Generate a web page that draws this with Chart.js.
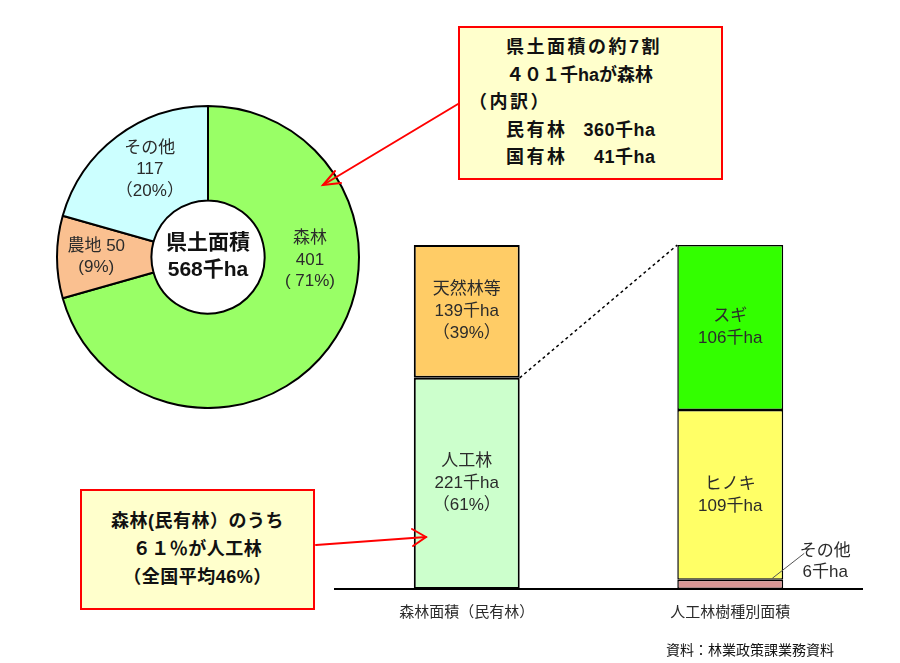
<!DOCTYPE html>
<html lang="ja">
<head>
<meta charset="utf-8">
<title>県土面積と森林面積</title>
<script src="https://cdn.jsdelivr.net/npm/chart.js@4.4.1/dist/chart.umd.min.js"></script>
<style>
  html, body { margin: 0; padding: 0; background: #fff; }
  body {
    width: 900px; height: 663px; position: relative; overflow: hidden;
    font-family: "Liberation Sans", "Noto Sans CJK JP", sans-serif;
  }
  #landChart { position: absolute; left: 56px; top: 105px; }
  #forestChart { position: absolute; left: 320px; top: 230px; }
  .note {
    position: absolute; box-sizing: border-box;
    background: #ffffcc; border: 2px solid #ff0000;
    font-weight: bold; font-size: 18px; color: #111;
  }
  #noteLand { left: 458px; top: 26px; width: 265px; height: 154px; padding-top: 6px; line-height: 27.5px; letter-spacing: 2.5px; }
  #noteLand .row { display: flex; white-space: pre; }
  #noteLand .num { display: inline-block; width: 88px; text-align: right; letter-spacing: 0.5px; }
  #notePlanted { left: 80px; top: 489px; width: 235px; height: 121px; padding-top: 16px; line-height: 28px; text-align: center; letter-spacing: 0.5px; }
  #source { position: absolute; left: 666px; top: 639px; font-size: 14px; color: #111; }
  #arrows { position: absolute; left: 0; top: 0; pointer-events: none; }
</style>
</head>
<body>
<canvas id="landChart" width="304" height="304"></canvas>
<canvas id="forestChart" width="560" height="408"></canvas>

<div class="note" id="noteLand">
  <div class="row" style="margin-left:46px">県土面積の約7割</div>
  <div class="row" style="margin-left:46px; letter-spacing:0">４０１千haが森林</div>
  <div class="row" style="margin-left:9px">（内訳）</div>
  <div class="row" style="margin-left:46px"><span>民有林</span><span class="num">360千ha</span></div>
  <div class="row" style="margin-left:46px"><span>国有林</span><span class="num">41千ha</span></div>
</div>

<div class="note" id="notePlanted">
  <div>森林(民有林）のうち</div>
  <div>６１％が人工林</div>
  <div>（全国平均46%）</div>
</div>

<div id="source">資料：林業政策課業務資料</div>

<svg id="arrows" width="900" height="663">
  <g stroke="#ff0000" stroke-width="2" fill="none" stroke-linecap="round">
    <line x1="458" y1="104" x2="323" y2="185" />
    <polyline points="335,171 323,185 341,183" />
    <line x1="316" y1="545" x2="426" y2="537" />
    <polyline points="412,529 426,537 413,546" />
  </g>
</svg>

<script>
// ===================================
// DATA
// ===================================
const landCategories = ["森林", "農地", "その他"];
const landValues = [401, 50, 117];
const landShares = [71, 9, 20];
const landTotal = 568;

const barCategories = ["森林面積（民有林）", "人工林樹種別面積"];
const forestTypes = ["人工林", "天然林等"];
const forestValues = [221, 139];
const forestShares = [61, 39];
const speciesNames = ["その他", "ヒノキ", "スギ"];
const speciesValues = [6, 109, 106];

// ===================================
// STYLE
// ===================================
const FONT = '"Liberation Sans", "Noto Sans CJK JP", sans-serif';
const TEXT_COLOR = "#2b2b2b";
const landColors = ["#99ff66", "#fac090", "#ccffff"];
const forestColors = ["#ccffcc", "#ffcc66"];
const speciesColors = ["#d99694", "#ffff66", "#33ff00"];

// label lines for each doughnut slice, and where to put them (fraction of radius)
const landLabelLines = [
  [landCategories[0], String(landValues[0]), "( " + landShares[0] + "%)"],
  [landCategories[1] + " " + landValues[1], "(" + landShares[1] + "%)"],
  [landCategories[2], String(landValues[2]), "（" + landShares[2] + "%）"],
];
const landLabelOffsets = [[0.675, 0.02], [-0.74, 0], [-0.385, -0.58]];

function drawLines(ctx, lines, x, y, lineHeight) {
  const top = y - ((lines.length - 1) * lineHeight) / 2;
  lines.forEach((line, i) => ctx.fillText(line, x, top + i * lineHeight));
}

// ===================================
// DOUGHNUT (県土面積)
// ===================================
const landLabelPlugin = {
  id: "landLabels",
  afterDatasetsDraw(chart) {
    const { ctx } = chart;
    const arcs = chart.getDatasetMeta(0).data;
    const cx = arcs[0].x;
    const cy = arcs[0].y;
    const r = arcs[0].outerRadius;
    ctx.save();
    ctx.textAlign = "center";
    ctx.textBaseline = "middle";
    ctx.fillStyle = TEXT_COLOR;
    ctx.font = "17px " + FONT;
    landLabelLines.forEach((lines, i) => {
      const [ox, oy] = landLabelOffsets[i];
      drawLines(ctx, lines, cx + ox * r, cy + oy * r, 21.5);
    });
    ctx.fillStyle = "#111";
    ctx.font = "bold 21px " + FONT;
    drawLines(ctx, ["県土面積", landTotal + "千ha"], cx, cy, 27);
    ctx.restore();
  },
};

new Chart(document.getElementById("landChart"), {
  type: "doughnut",
  data: {
    labels: landCategories,
    datasets: [
      {
        data: landValues,
        backgroundColor: landColors,
        borderColor: "#000",
        borderWidth: 2,
      },
    ],
  },
  options: {
    responsive: false,
    animation: false,
    cutout: "37.5%",
    rotation: 0,
    events: [],
    plugins: { legend: { display: false }, tooltip: { enabled: false } },
  },
  plugins: [landLabelPlugin],
});

// ===================================
// STACKED BARS (民有林 / 人工林樹種別)
// ===================================
const forestLabelPlugin = {
  id: "forestLabels",
  afterDatasetsDraw(chart) {
    const { ctx } = chart;
    const planted = chart.getDatasetMeta(0).data[0];
    const sugi = chart.getDatasetMeta(4).data[1];

    // dotted connector from 人工林 top to the species bar top
    ctx.save();
    ctx.strokeStyle = "#000";
    ctx.lineWidth = 1.5;
    ctx.setLineDash([3, 3]);
    ctx.beginPath();
    ctx.moveTo(planted.x + planted.width / 2, planted.y);
    ctx.lineTo(sugi.x - sugi.width / 2, sugi.y);
    ctx.stroke();
    ctx.restore();

    ctx.save();
    ctx.textAlign = "center";
    ctx.textBaseline = "middle";
    ctx.fillStyle = TEXT_COLOR;
    ctx.font = "17px " + FONT;

    forestTypes.forEach((name, i) => {
      const bar = chart.getDatasetMeta(i).data[0];
      const mid = (bar.y + bar.base) / 2;
      drawLines(ctx, [name, forestValues[i] + "千ha", "（" + forestShares[i] + "%）"], bar.x, mid, 22);
    });

    speciesNames.forEach((name, i) => {
      const bar = chart.getDatasetMeta(2 + i).data[1];
      const mid = (bar.y + bar.base) / 2;
      const lines = [name, speciesValues[i] + "千ha"];
      if (bar.base - bar.y < 40) {
        // too thin: label outside with a leader line
        ctx.strokeStyle = "#555";
        ctx.lineWidth = 1;
        ctx.beginPath();
        ctx.moveTo(bar.x + 42, mid - 6);
        ctx.lineTo(bar.x + 74, mid - 31);
        ctx.stroke();
        drawLines(ctx, lines, bar.x + 95, mid - 23, 21);
      } else {
        drawLines(ctx, lines, bar.x, mid, 22);
      }
    });
    ctx.restore();
  },
};

const forestDatasets = forestTypes.map((name, i) => ({
  label: name,
  data: [forestValues[i], null],
  yAxisID: "y",
  backgroundColor: forestColors[i],
  borderColor: "#000",
  borderWidth: 2,
}));
const speciesDatasets = speciesNames.map((name, i) => ({
  label: name,
  data: [null, speciesValues[i]],
  yAxisID: "y2",
  backgroundColor: speciesColors[i],
  borderColor: "#000",
  borderWidth: 1.5,
}));

new Chart(document.getElementById("forestChart"), {
  type: "bar",
  data: {
    labels: barCategories,
    datasets: forestDatasets.concat(speciesDatasets),
  },
  options: {
    responsive: false,
    animation: false,
    events: [],
    layout: { padding: { left: 15, right: 18, top: 15, bottom: 9 } },
    datasets: {
      bar: { categoryPercentage: 1, barPercentage: 0.402, borderSkipped: false },
    },
    scales: {
      x: {
        stacked: true,
        z: 1,
        grid: { display: false },
        border: { display: true, color: "#000", width: 2 },
        ticks: { color: TEXT_COLOR, padding: 7, font: { family: FONT, size: 15 } },
      },
      y: { display: false, stacked: true, min: 0, max: forestValues[0] + forestValues[1] },
      y2: { display: false, stacked: true, min: 0, max: speciesValues.reduce((a, b) => a + b, 0) },
    },
    plugins: { legend: { display: false }, tooltip: { enabled: false } },
  },
  plugins: [forestLabelPlugin],
});
</script>
</body>
</html>
